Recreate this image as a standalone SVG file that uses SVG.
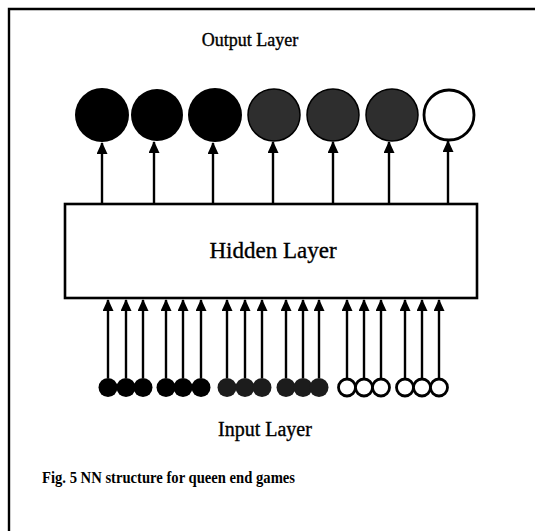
<svg xmlns="http://www.w3.org/2000/svg" width="535" height="531" viewBox="0 0 535 531">
<style>
.lbl{font-family:"Liberation Serif","Times New Roman",serif;fill:#000;stroke:#000;stroke-width:0.35;text-anchor:middle}
.conn{stroke:#000;stroke-width:2.4;fill:none}
.blk{fill:#000}
.gry{fill:#1c1c1c}
.ogry{fill:#2e2e2e;stroke:#000;stroke-width:1.5}
.wht{fill:#fff;stroke:#000;stroke-width:2.8}
</style>
<defs>
<marker id="ah" markerUnits="userSpaceOnUse" markerWidth="13" markerHeight="12" refX="11" refY="5.5" orient="auto">
<path d="M0,0 L12,5.5 L0,11 Z" fill="#000"/>
</marker>
</defs>
<rect width="535" height="531" fill="#fff"/>
<g id="frame">
<path d="M9,531 L9,9 L535,9" stroke="#000" stroke-width="2.4" fill="none"/>
</g>
<g id="output-label"><text class="lbl" x="250" y="46" font-size="18">Output Layer</text></g>
<g id="output-layer">
<circle cx="102" cy="115" r="27" class="blk"/>
<circle cx="157" cy="115" r="26" class="blk"/>
<circle cx="215" cy="115" r="27" class="blk"/>
<circle cx="274" cy="115" r="26" class="ogry"/>
<circle cx="333" cy="115" r="26" class="ogry"/>
<circle cx="392" cy="115" r="26" class="ogry"/>
<circle cx="449" cy="115" r="25" class="wht"/>
</g>
<g id="hidden-layer">
<rect x="65" y="204" width="412" height="94" fill="#fff" stroke="#000" stroke-width="2.6"/>
<text class="lbl" x="273" y="258" font-size="23">Hidden Layer</text>
</g>
<g id="input-layer">
<circle cx="108" cy="387.5" r="9.5" class="blk"/>
<circle cx="126" cy="387.5" r="9.5" class="blk"/>
<circle cx="143" cy="387.5" r="9.5" class="blk"/>
<circle cx="166" cy="387.5" r="9.5" class="blk"/>
<circle cx="183" cy="387.5" r="9.5" class="blk"/>
<circle cx="201" cy="387.5" r="9.5" class="blk"/>
<circle cx="227" cy="387.5" r="9.5" class="gry"/>
<circle cx="245" cy="387.5" r="9.5" class="gry"/>
<circle cx="262" cy="387.5" r="9.5" class="gry"/>
<circle cx="286" cy="387.5" r="9.5" class="gry"/>
<circle cx="303" cy="387.5" r="9.5" class="gry"/>
<circle cx="319" cy="387.5" r="9.5" class="gry"/>
<circle cx="347" cy="387.5" r="8.5" class="wht"/>
<circle cx="364" cy="387.5" r="8.5" class="wht"/>
<circle cx="381" cy="387.5" r="8.5" class="wht"/>
<circle cx="405" cy="387.5" r="8.5" class="wht"/>
<circle cx="422" cy="387.5" r="8.5" class="wht"/>
<circle cx="439" cy="387.5" r="8.5" class="wht"/>
</g>
<g id="input-label"><text class="lbl" x="265" y="436" font-size="20">Input Layer</text></g>
<g id="caption"><text x="42" y="483" font-family="'Liberation Serif','Times New Roman',serif" font-weight="bold" font-size="17" textLength="253" lengthAdjust="spacingAndGlyphs">Fig. 5 NN structure for queen end games</text></g>
<g id="connectors">
<g class="conn">
<path d="M102,204 V143" marker-end="url(#ah)"/>
<path d="M154,204 V142" marker-end="url(#ah)"/>
<path d="M213,204 V143" marker-end="url(#ah)"/>
<path d="M273,204 V142" marker-end="url(#ah)"/>
<path d="M333,204 V142" marker-end="url(#ah)"/>
<path d="M389,204 V142" marker-end="url(#ah)"/>
<path d="M448,204 V141" marker-end="url(#ah)"/>
<path d="M108,378 V300" marker-end="url(#ah)"/>
<path d="M126,378 V300" marker-end="url(#ah)"/>
<path d="M143,378 V300" marker-end="url(#ah)"/>
<path d="M166,378 V300" marker-end="url(#ah)"/>
<path d="M183,378 V300" marker-end="url(#ah)"/>
<path d="M201,378 V300" marker-end="url(#ah)"/>
<path d="M227,378 V300" marker-end="url(#ah)"/>
<path d="M245,378 V300" marker-end="url(#ah)"/>
<path d="M262,378 V300" marker-end="url(#ah)"/>
<path d="M286,378 V300" marker-end="url(#ah)"/>
<path d="M303,378 V300" marker-end="url(#ah)"/>
<path d="M319,378 V300" marker-end="url(#ah)"/>
<path d="M347,379 V300" marker-end="url(#ah)"/>
<path d="M364,379 V300" marker-end="url(#ah)"/>
<path d="M381,379 V300" marker-end="url(#ah)"/>
<path d="M405,379 V300" marker-end="url(#ah)"/>
<path d="M422,379 V300" marker-end="url(#ah)"/>
<path d="M439,379 V300" marker-end="url(#ah)"/>
</g>
</g>
</svg>
